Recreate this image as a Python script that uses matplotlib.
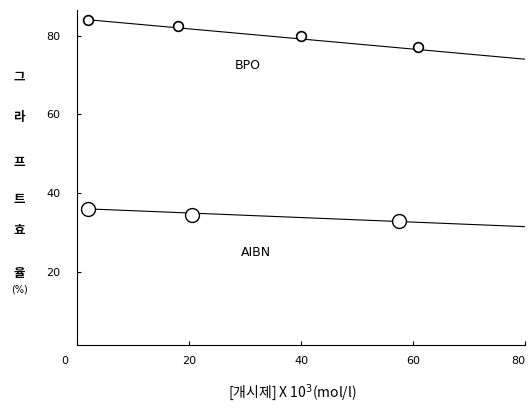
"""
그라프트 효율 vs 개시제 농도 (BPO, AIBN)
"""
import matplotlib
matplotlib.use("Agg")
import matplotlib.pyplot as plt
import matplotlib.transforms as mtransforms

# measured points
bpo_x = [2, 18, 40, 61]
bpo_y = [84, 82.5, 80, 77]
aibn_x = [2, 20.5, 57.5]
aibn_y = [36, 34.5, 33]

# fitted straight lines (end points)
bpo_fit_x = [2, 80]
bpo_fit_y = [84, 74]
aibn_fit_x = [2, 80]
aibn_fit_y = [36, 31.5]

x_ticks = [0, 20, 40, 60, 80]
y_ticks = [20, 40, 60, 80]
y_label_chars = ["그", "라", "프", "트", "효", "율"]
y_label_pos = [77, 117, 163, 200, 230, 273]


def main():
    plt.rcParams['font.family'] = ['DejaVu Sans', 'Noto Sans CJK KR']
    fig = plt.figure(figsize=(5.29, 4.13), dpi=100)
    ax = fig.add_axes([0.146, 0.165, 0.846, 0.811])

    ax.plot(bpo_fit_x, bpo_fit_y, color='black', lw=0.8, zorder=1)
    ax.plot(aibn_fit_x, aibn_fit_y, color='black', lw=0.8, zorder=1)
    ax.plot(bpo_x, bpo_y, 'o', ms=7, mfc='white', mec='black', mew=1.2, zorder=2)
    ax.plot(aibn_x, aibn_y, 'o', ms=10, mfc='white', mec='black', mew=1.0, zorder=2)

    ax.text(30.5, 72.5, "BPO", fontsize=9, ha='center', va='center')
    ax.text(32, 25, "AIBN", fontsize=9, ha='center', va='center')

    ax.set_xlim(0, 80)
    ax.set_ylim(1.5, 86.5)
    ax.set_xticks(x_ticks)
    ax.set_yticks(y_ticks)
    ax.tick_params(axis='both', direction='in', length=3, labelsize=8)
    ax.tick_params(axis='y', pad=12)
    ax.tick_params(axis='x', pad=8)
    ax.spines['top'].set_visible(False)
    ax.spines['right'].set_visible(False)

    # nudge first and last x tick labels like the original print
    labels = ax.get_xticklabels()
    for lab, dx in [(labels[0], -12), (labels[-1], -6)]:
        lab.set_transform(lab.get_transform() +
                          mtransforms.ScaledTranslation(dx / 100, 0, fig.dpi_scale_trans))

    for ch, yp in zip(y_label_chars, y_label_pos):
        fig.text(19 / 529, 1 - yp / 413, ch, fontsize=9, fontweight='bold',
                 family=['Noto Sans CJK KR'], ha='center', va='center')
    fig.text(19 / 529, 1 - 290 / 413, "(%)", fontsize=7, ha='center', va='center')

    fig.text(292 / 529, 1 - 393 / 413, "[개시제] X 10$^3$(mol/l)", fontsize=10,
             family=['Noto Sans CJK KR', 'DejaVu Sans'], ha='center', va='center')

    fig.savefig("out.png", dpi=100)


if __name__ == "__main__":
    main()
